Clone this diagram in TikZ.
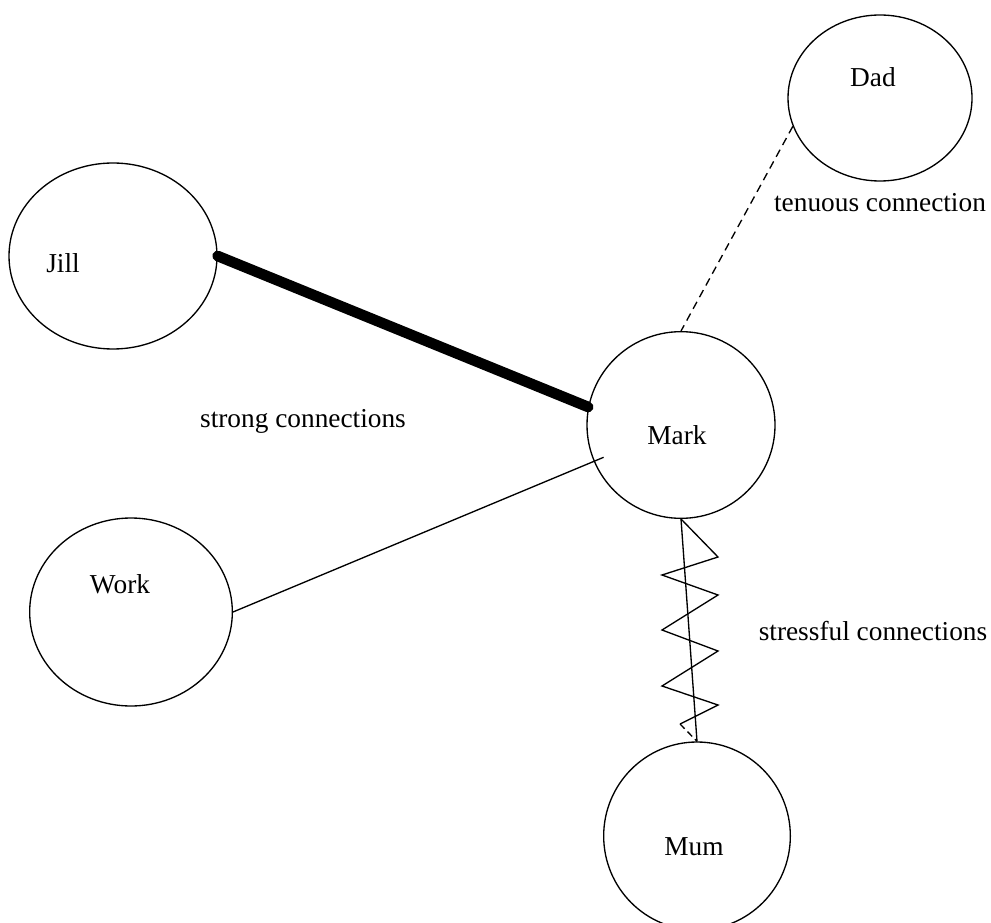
\documentclass[tikz,border=0pt]{standalone}
\usepackage{fontspec}
\setmainfont{Liberation Serif}
\usetikzlibrary{shapes.geometric}

\begin{document}
\begin{tikzpicture}[
    x=0.75pt, y=-0.75pt,
    person/.style={ellipse, draw=black, line width=1pt, inner sep=0pt},
    txt/.style={anchor=base, inner sep=0pt, font=\fontsize{20.5}{24}\selectfont},
    strongline/.style={line width=8pt, line cap=round},
    plainline/.style={line width=1pt},
    tenuousline/.style={line width=1pt, dash pattern=on 6pt off 4pt}
]
\useasboundingbox (0,0) rectangle (991,923);

\node[person, minimum width=138pt, minimum height=124.5pt] (dad) at (880,98) {};
\node[person, minimum width=156pt, minimum height=139.5pt] (jill) at (113,256) {};
\node[person, minimum width=141pt, minimum height=140pt] (mark) at (681,425) {};
\node[person, minimum width=152pt, minimum height=141pt] (work) at (131,612) {};
\node[person, minimum width=140pt, minimum height=141pt] (mum) at (697,836) {};

\node[txt] (dadlbl) at (873,87) {Dad};
\node[txt] (tenuouslbl) at (880,212) {tenuous connection};
\node[txt] (jilllbl) at (63,273) {Jill};
\node[txt] (stronglbl) at (303,427) {strong connections};
\node[txt] (marklbl) at (677,444) {Mark};
\node[txt] (worklbl) at (120,593) {Work};
\node[txt] (stressfullbl) at (873,640) {stressful connections};
\node[txt] (mumlbl) at (694,855) {Mum};

\draw[strongline] (jill.east)--(mark.169);
\draw[plainline, shorten >=-8pt] (work.east)--(mark);
\draw[tenuousline] (dad.198)--(mark.north);
\draw[plainline] (mark.south)--(mum.north);
\draw[plainline] (mark.south) -- ++(37,38) -- ++(-56,18) -- ++(56,20) -- ++(-56,35)
    -- ++(56,21) -- ++(-56,35) -- ++(56,19) -- ++(-38,19) coordinate (zigend);
\draw[plainline, dash pattern=on 5pt off 3pt] (zigend)--(mum.north);

\end{tikzpicture}
\end{document}
